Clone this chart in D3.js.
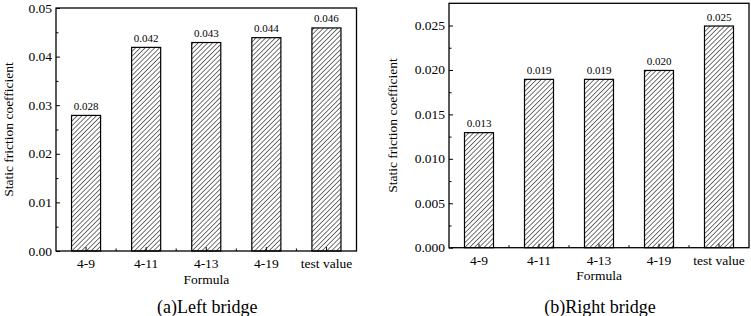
<!DOCTYPE html>
<html><head><meta charset="utf-8">
<script src="https://cdn.jsdelivr.net/npm/d3@7"></script>
<style>body{margin:0;background:#fff}svg{display:block}</style>
</head><body>
<svg id="c" width="751" height="316" font-family="'Liberation Serif', 'Times New Roman', 'DejaVu Serif', serif"></svg>
<script>
const categories = ["4-9","4-11","4-13","4-19","test value"];
const leftValues = [0.028,0.042,0.043,0.044,0.046];
const rightValues = [0.013,0.019,0.019,0.020,0.025];
const leftYTicks = [0,0.01,0.02,0.03,0.04,0.05];
const rightYTicks = [0,0.005,0.010,0.015,0.020,0.025];
const xTitle = "Formula";
const yTitle = "Static friction coefficient";
const captions = ["(a)Left bridge","(b)Right bridge"];

const FONT = "'Liberation Serif', 'Times New Roman', 'DejaVu Serif', serif";
const svg = d3.select("#c");
const defs = svg.append("defs");
const pat = defs.append("pattern").attr("id","hatch").attr("patternUnits","userSpaceOnUse")
  .attr("width",3.4).attr("height",3.4).attr("patternTransform","rotate(45)");
pat.append("rect").attr("width",3.4).attr("height",3.4).attr("fill","#fff");
pat.append("line").attr("x1",0).attr("y1",0).attr("x2",0).attr("y2",3.4).attr("stroke","#000").attr("stroke-width",1.1);

function panel(cfg){
  const g = svg.append("g").attr("font-family",FONT);
  const x = d3.scaleBand().domain(categories).range([cfg.x0,cfg.x1]).paddingInner(0.5).paddingOuter(0.25);
  const y = d3.scaleLinear().domain([0,cfg.ymax]).range([cfg.y1,cfg.y0]);
  g.selectAll("rect.bar").data(cfg.values).enter().append("rect")
    .attr("x",(d,i)=>x(categories[i])+0.5).attr("y",d=>y(d)+0.5)
    .attr("width",x.bandwidth()-1).attr("height",d=>y(0)-y(d)-0.5)
    .attr("fill","url(#hatch)").attr("stroke","#000").attr("stroke-width",1.2);
  g.selectAll("text.val").data(cfg.values).enter().append("text")
    .attr("font-family",FONT)
    .attr("x",(d,i)=>x(categories[i])+x.bandwidth()/2).attr("y",d=>y(d)-5)
    .attr("text-anchor","middle").attr("font-size",11).text(d=>d.toFixed(3));
  const yAx = d3.axisRight(y).tickValues(cfg.yticks).tickSize(4).tickFormat("");
  g.append("g").attr("transform",`translate(${cfg.x0},0)`).call(yAx).call(s=>{s.select(".domain").remove();});
  const minor = cfg.yticks.slice(0,-1).map((t,i)=>(t+cfg.yticks[i+1])/2);
  g.append("g").attr("transform",`translate(${cfg.x0},0)`).call(d3.axisRight(y).tickValues(minor).tickSize(2.5).tickFormat("")).call(s=>s.select(".domain").remove());
  g.selectAll(".tick line").attr("stroke","#000");
  g.selectAll("text.yt").data(cfg.yticks).enter().append("text")
    .attr("font-family",FONT)
    .attr("x",cfg.x0-4).attr("y",d=>y(d)+4.5).attr("text-anchor","end").attr("font-size",13.5)
    .text(d=>d.toFixed(cfg.dec));
  const xa = g.append("g").attr("transform",`translate(0,${cfg.y1})`);
  xa.selectAll("line.xt").data(categories).enter().append("line")
    .attr("x1",d=>x(d)+x.bandwidth()/2).attr("x2",d=>x(d)+x.bandwidth()/2).attr("y1",0).attr("y2",-4).attr("stroke","#000");
  xa.selectAll("line.xm").data(categories.slice(1)).enter().append("line")
    .attr("x1",d=>x(d)-x.step()*x.paddingInner()/2).attr("x2",d=>x(d)-x.step()*x.paddingInner()/2).attr("y1",0).attr("y2",-2.5).attr("stroke","#000");
  g.selectAll("text.xl").data(categories).enter().append("text")
    .attr("font-family",FONT)
    .attr("x",d=>x(d)+x.bandwidth()/2).attr("y",cfg.y1+17).attr("text-anchor","middle").attr("font-size",13.5).text(d=>d);
  g.append("rect").attr("x",cfg.x0).attr("y",cfg.y0).attr("width",cfg.x1-cfg.x0).attr("height",cfg.y1-cfg.y0)
    .attr("fill","none").attr("stroke","#000").attr("stroke-width",1.3);
  const cx = (cfg.x0+cfg.x1)/2;
  g.append("text").attr("font-family",FONT).attr("x",cx).attr("y",cfg.y1+32.5).attr("text-anchor","middle").attr("font-size",13.5).text(xTitle);
  g.append("text").attr("font-family",FONT).attr("transform",`translate(${cfg.ylx},${(cfg.y0+cfg.y1)/2}) rotate(-90)`)
    .attr("text-anchor","middle").attr("font-size",13.5).text(yTitle);
  g.append("text").attr("font-family",FONT).attr("x",cx+1).attr("y",313).attr("text-anchor","middle").attr("font-size",18).text(cfg.caption);
}
panel({x0:56,x1:356.5,y0:8,y1:251,ymax:0.05,values:leftValues,yticks:leftYTicks,dec:2,ylx:13,caption:captions[0]});
panel({x0:449,x1:749,y0:3.3,y1:247.7,ymax:0.0275,values:rightValues,yticks:rightYTicks,dec:3,ylx:397,caption:captions[1]});
</script>
</body></html>
